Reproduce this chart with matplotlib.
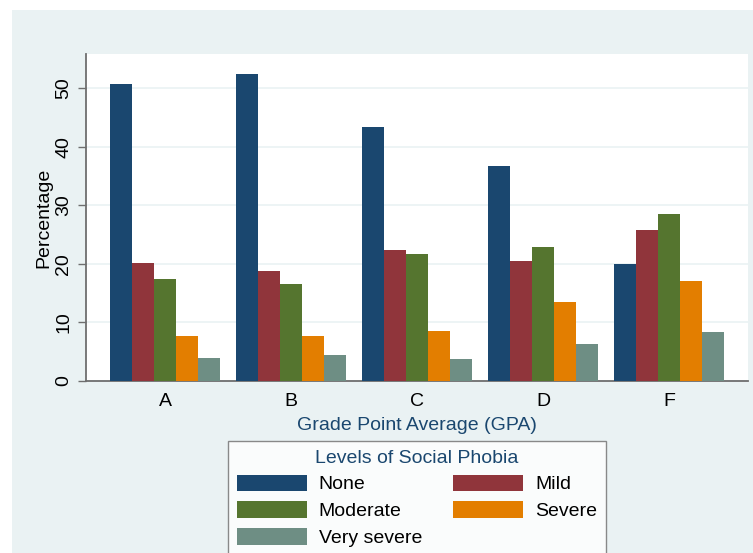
import numpy as np
import matplotlib.pyplot as plt
from matplotlib.patches import Rectangle, Patch

plt.rcParams['font.family'] = ['Liberation Sans', 'DejaVu Sans']

gpa = ['A', 'B', 'C', 'D', 'F']
levels = ['None', 'Mild', 'Moderate', 'Severe', 'Very severe']
none_ = [50.6, 52.4, 43.3, 36.7, 19.9]
mild = [20.1, 18.8, 22.4, 20.5, 25.7]
moderate = [17.4, 16.5, 21.7, 22.9, 28.5]
severe = [7.7, 7.7, 8.6, 13.4, 17.1]
very_severe = [4.0, 4.4, 3.7, 6.3, 8.4]
series = [none_, mild, moderate, severe, very_severe]
colors = ['#1a476f', '#90353b', '#55752f', '#e37e00', '#6e8e84']

bg = '#eaf2f3'
navy = '#1a476f'
fs = 14

fig = plt.figure(figsize=(7.53, 5.53), dpi=100)
fig.patch.set_facecolor('white')
fig.patches.append(Rectangle((12 / 753, 0), 1, 1 - 10 / 553, transform=fig.transFigure,
                             facecolor=bg, edgecolor='none', zorder=-10))

ax = fig.add_axes([86 / 753, 1 - 381 / 553, (748 - 86) / 753, (381 - 54) / 553])
ax.set_facecolor('white')

x = np.arange(len(gpa))
w = 0.1756
for i, (vals, c) in enumerate(zip(series, colors)):
    ax.bar(x + (i - 2) * w, vals, width=w, color=c, zorder=3, label=levels[i])

ax.set_xlim(-0.627, 4.627)
ax.set_ylim(0, 55.8)
ax.set_yticks([0, 10, 20, 30, 40, 50])
ax.yaxis.grid(True, color=bg, linewidth=1.2, zorder=0)
ax.set_xticks(x)
ax.set_xticklabels(gpa, fontsize=fs)
ax.tick_params(axis='x', length=0, pad=9, labelcolor='black')
ax.tick_params(axis='y', length=5.8, width=1, color='#6e6e6e', pad=4, labelsize=fs)
for lab in ax.get_yticklabels():
    lab.set_rotation(90)
    lab.set_va('center')

for s in ['top', 'right']:
    ax.spines[s].set_visible(False)
for s in ['left', 'bottom']:
    ax.spines[s].set_color('#6e6e6e')
    ax.spines[s].set_linewidth(1.3)

ax.set_ylabel('Percentage', fontsize=fs, color='black', va='center')
ax.yaxis.set_label_coords(-0.063, 0.5)
ax.set_xlabel('Grade Point Average (GPA)', fontsize=fs, color=navy, va='center')
ax.xaxis.set_label_coords(0.5, -0.1346)

order = [0, 2, 4, 1, 3]
handles = [Patch(facecolor=colors[i], edgecolor='none') for i in order]
labels = [levels[i] for i in order]
leg = fig.legend(handles, labels, ncol=2, loc='upper center',
                 bbox_to_anchor=(417 / 753, 1 - 441 / 553), borderaxespad=0,
                 title='Levels of Social Phobia', fontsize=fs, title_fontsize=fs,
                 handlelength=3.6, handleheight=0.93, handletextpad=0.62,
                 columnspacing=1.6, labelspacing=0.4, borderpad=0.45,
                 fancybox=False, frameon=True)
leg.get_frame().set_edgecolor('#6e6e6e')
leg.get_frame().set_linewidth(1.0)
leg.get_frame().set_facecolor('white')
leg.get_title().set_color(navy)

fig.savefig('out.png', dpi=100)
